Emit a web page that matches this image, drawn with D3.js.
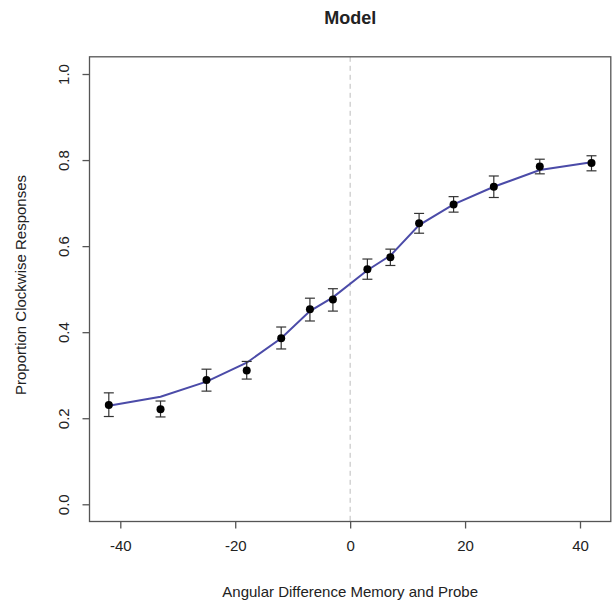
<!DOCTYPE html>
<html>
<head>
<meta charset="utf-8">
<script src="https://cdn.jsdelivr.net/npm/d3@7"></script>
<style>
  body { margin: 0; background: #fff; }
  svg text { font-family: "Liberation Sans", Arial, sans-serif; fill: #222; }
</style>
</head>
<body>
<div id="chart"></div>
<script>
// angular difference conditions
var angles = [-42, -33, -25, -18, -12, -7, -3, 3, 7, 12, 18, 25, 33, 42];
// observed proportion clockwise
var observed = [0.231, 0.221, 0.289, 0.311, 0.386, 0.453, 0.476, 0.546, 0.574, 0.653, 0.697, 0.738, 0.785, 0.793];
var errLow = [0.204, 0.203, 0.263, 0.291, 0.361, 0.426, 0.449, 0.523, 0.555, 0.630, 0.679, 0.713, 0.768, 0.775];
var errHigh = [0.259, 0.240, 0.314, 0.332, 0.412, 0.479, 0.501, 0.570, 0.593, 0.676, 0.715, 0.763, 0.802, 0.810];
// model fit at each condition
var model = [0.229, 0.250, 0.285, 0.329, 0.386, 0.449, 0.481, 0.544, 0.578, 0.649, 0.697, 0.738, 0.777, 0.795];

var xTicks = [-40, -20, 0, 20, 40];
var yTicks = [0, 0.2, 0.4, 0.6, 0.8, 1.0];

var width = 612, height = 602;
var plotL = 89.5, plotR = 610.8, plotT = 56.8, plotB = 521.5;

var svg = d3.select("#chart").append("svg")
    .attr("width", width)
    .attr("height", height);

var xScale = d3.scaleLinear().domain([-45.36, 45.36]).range([plotL, plotR]);
var yScale = d3.scaleLinear().domain([-0.04, 1.04]).range([plotB, plotT]);

// zero reference line
svg.append("line")
    .attr("x1", xScale(0)).attr("x2", xScale(0))
    .attr("y1", plotT).attr("y2", plotB)
    .attr("stroke", "#bdbdbd")
    .attr("stroke-width", 1)
    .attr("stroke-dasharray", "5,4");

// box
svg.append("rect")
    .attr("x", plotL).attr("y", plotT)
    .attr("width", plotR - plotL).attr("height", plotB - plotT)
    .attr("fill", "none")
    .attr("stroke", "#555")
    .attr("stroke-width", 1.3);

// x axis
var xAxis = svg.append("g")
    .attr("transform", "translate(0," + plotB + ")")
    .call(d3.axisBottom(xScale).tickValues(xTicks).tickSize(7).tickPadding(12).tickFormat(function(d) { return String(d); }));
xAxis.select(".domain").remove();
xAxis.selectAll("line").attr("stroke", "#555").attr("stroke-width", 1.3);
xAxis.selectAll("text").style("font-size", "15px").attr("fill", "#222");

// y axis
var yAxis = svg.append("g")
    .attr("transform", "translate(" + plotL + ",0)")
    .call(d3.axisLeft(yScale).tickValues(yTicks).tickSize(7).tickFormat(d3.format(".1f")));
yAxis.select(".domain").remove();
yAxis.selectAll("line").attr("stroke", "#555").attr("stroke-width", 1.3);
yAxis.selectAll("text")
    .attr("x", null).attr("dy", null)
    .attr("transform", "translate(-24,0) rotate(-90)")
    .attr("text-anchor", "middle")
    .attr("dominant-baseline", "middle")
    .style("font-size", "15px")
    .attr("fill", "#222");

// model curve
var line = d3.line()
    .x(function(d, i) { return xScale(angles[i]); })
    .y(function(d) { return yScale(d); });

svg.append("path")
    .datum(model)
    .attr("d", line)
    .attr("fill", "none")
    .attr("stroke", "#4b4ba8")
    .attr("stroke-width", 2);

// error bars
var bars = svg.selectAll(".err")
    .data(angles)
    .enter().append("g")
    .attr("class", "err")
    .attr("stroke", "#333")
    .attr("stroke-width", 1.2);

bars.append("line")
    .attr("x1", function(d) { return xScale(d); })
    .attr("x2", function(d) { return xScale(d); })
    .attr("y1", function(d, i) { return yScale(errLow[i]); })
    .attr("y2", function(d, i) { return yScale(errHigh[i]); });
bars.append("line")
    .attr("x1", function(d) { return xScale(d) - 5; })
    .attr("x2", function(d) { return xScale(d) + 5; })
    .attr("y1", function(d, i) { return yScale(errLow[i]); })
    .attr("y2", function(d, i) { return yScale(errLow[i]); });
bars.append("line")
    .attr("x1", function(d) { return xScale(d) - 5; })
    .attr("x2", function(d) { return xScale(d) + 5; })
    .attr("y1", function(d, i) { return yScale(errHigh[i]); })
    .attr("y2", function(d, i) { return yScale(errHigh[i]); });

// observed points
svg.selectAll(".dot")
    .data(observed)
    .enter().append("circle")
    .attr("class", "dot")
    .attr("cx", function(d, i) { return xScale(angles[i]); })
    .attr("cy", function(d) { return yScale(d); })
    .attr("r", 4)
    .attr("fill", "#000");

// labels
svg.append("text")
    .attr("x", (plotL + plotR) / 2)
    .attr("y", 24)
    .attr("text-anchor", "middle")
    .style("font-size", "18px")
    .style("font-weight", "bold")
    .attr("fill", "#111")
    .text("Model");

svg.append("text")
    .attr("x", (plotL + plotR) / 2)
    .attr("y", 597)
    .attr("text-anchor", "middle")
    .style("font-size", "15px")
    .text("Angular Difference Memory and Probe");

svg.append("text")
    .attr("transform", "translate(26,285) rotate(-90)")
    .attr("text-anchor", "middle")
    .style("font-size", "15px")
    .text("Proportion Clockwise Responses");
</script>
</body>
</html>
